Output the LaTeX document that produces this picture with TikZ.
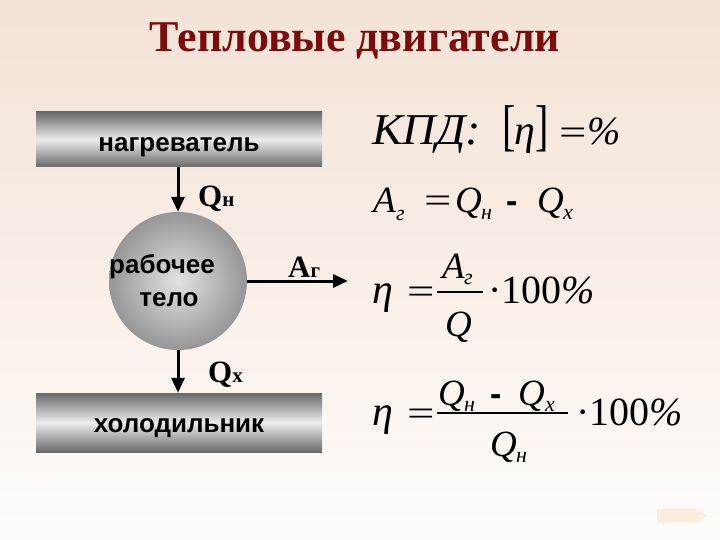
\documentclass[tikz,border=0pt]{standalone}
\usepackage{fontspec}
\setmainfont{Liberation Serif}
\setsansfont{Liberation Sans}
\usetikzlibrary{arrows.meta}
\definecolor{bgtop}{RGB}{243,227,215}
\definecolor{bgbot}{RGB}{254,252,250}
\definecolor{titlec}{RGB}{122,12,12}
\definecolor{bardark}{RGB}{105,105,105}
\definecolor{barlight}{RGB}{236,236,236}
\definecolor{ballin}{RGB}{226,226,226}
\definecolor{ballout}{RGB}{150,150,150}
\definecolor{navc}{RGB}{252,236,222}
\tikzset{
  bar/.style={rectangle, inner sep=0pt, minimum width=286pt, top color=bardark, bottom color=bardark, middle color=barlight,
    font=\fontsize{26}{26}\selectfont\sffamily\bfseries},
  ball/.style={circle, inner sep=0pt, minimum size=138pt, inner color=ballin, outer color=ballout,
    font=\fontsize{26}{33}\selectfont\sffamily\bfseries, align=center},
  arr/.style={line width=3pt, -{Triangle[length=15pt,width=13pt]}},
  lbl/.style={anchor=base west, inner sep=0pt, font=\fontsize{31}{31}\selectfont\bfseries},
  fi/.style={anchor=base west, inner sep=0pt, font=\fontsize{37}{37}\selectfont\itshape},
  fbig/.style={anchor=base west, inner sep=0pt, font=\fontsize{44}{44}\selectfont\itshape},
  feta/.style={anchor=base west, inner sep=0pt, font=\fontsize{42}{42}\selectfont\itshape},
  fsub/.style={anchor=base west, inner sep=0pt, font=\fontsize{22}{22}\selectfont\itshape},
  fup/.style={anchor=base west, inner sep=0pt, font=\fontsize{36}{36}\selectfont},
  fnum/.style={anchor=base west, inner sep=0pt, font=\fontsize{40}{40}\selectfont},
  fminus/.style={anchor=base west, inner sep=0pt, font=\fontsize{34}{34}\selectfont\sffamily\bfseries},
  fracline/.style={line width=1.4pt}
}
\newcommand{\wideeq}{\scalebox{1.35}[1]{=}}
\begin{document}
\begin{tikzpicture}[x=1pt,y=-1pt]
\useasboundingbox (0,0) rectangle (720,540);
\shade[top color=bgtop, bottom color=bgbot, middle color={rgb,255:red,248;green,238;blue,230}] (0,0) rectangle (720,540);
\fill[navc] (657,509) -- (696,509) -- (707,515.5) -- (696,522) -- (657,522) -- cycle;

% title
\node[anchor=base, inner sep=0pt, text=titlec, font=\fontsize{44}{44}\selectfont\bfseries] (title) at (355,52) {Тепловые двигатели};

% diagram
\node[bar, minimum height=55pt, text height=25pt, text depth=0pt] (heater) at (179,139.5) {нагреватель};
\node[bar, minimum height=59pt, text height=20pt, text depth=0pt] (cooler) at (179,422.5) {холодильник};
\node[ball] (body) at (178,281) {\hspace*{-32pt}рабочее\\\hspace*{-18pt}тело};
\coordinate (aend) at (348,281);
\draw[arr] (heater.south -| body.north) -- (body.north);
\draw[arr] (body.south) -- (cooler.north -| body.south);
\draw[arr] (body.east) -- (aend);
\node[lbl] (qh) at (198,207) {Q\fontsize{21}{21}\selectfont н};
\node[lbl] (qc) at (208,382) {Q\fontsize{21}{21}\selectfont х};
\node[lbl] (ag) at (288,277) {A\fontsize{21}{21}\selectfont г};

% formula 1
\node[fbig] (kpd) at (372,145) {\scalebox{1.05}[1]{КПД:}};
\node[fup, font=\fontsize{40}{40}\selectfont] (lb) at (502,145) {\scalebox{1}[1.4]{[}};
\node[feta] (eta1) at (514,145) {η};
\node[fup, font=\fontsize{40}{40}\selectfont] (rb) at (535,145) {\scalebox{1}[1.4]{]}};
\node[fup] (eq1) at (559,145) {\wideeq};
\node[fbig, font=\fontsize{40}{40}\selectfont\itshape] (pc1) at (587,145) {\%};

% formula 2
\node[fi] (a2) at (373,213) {A};
\node[fsub] (a2s) at (396,221) {г};
\node[fup] (eq2) at (424,213) {\wideeq};
\node[fi] (q2a) at (455,213) {Q};
\node[fsub] (q2as) at (481,219) {н};
\node[fminus] (m2) at (506,213) {-};
\node[fi] (q2b) at (537,213) {Q};
\node[fsub] (q2bs) at (563,219) {х};

% formula 3
\node[feta] (eta3) at (372,303) {η};
\node[fup] (eq3) at (407,303) {\wideeq};
\draw[fracline] (437,292) -- (483,292);
\node[fi] (a3) at (442,278) {A};
\node[fsub] (a3s) at (464,284) {г};
\node[fi] (q3) at (445,336) {Q};
\node[fnum] (h3) at (488,303) {·100\textit{\%}};

% formula 4
\node[feta] (eta4) at (372,425) {η};
\node[fup] (eq4) at (407,425) {\wideeq};
\draw[fracline] (437,413) -- (568,413);
\node[fi] (q4a) at (438,405) {Q};
\node[fsub] (q4as) at (464,411) {н};
\node[fminus] (m4) at (490,405) {-};
\node[fi] (q4b) at (518,405) {Q};
\node[fsub] (q4bs) at (545,411) {х};
\node[fi] (q4c) at (490,456) {Q};
\node[fsub] (q4cs) at (516,462) {н};
\node[fnum] (h4) at (576,425) {·100\textit{\%}};
\end{tikzpicture}
\end{document}
